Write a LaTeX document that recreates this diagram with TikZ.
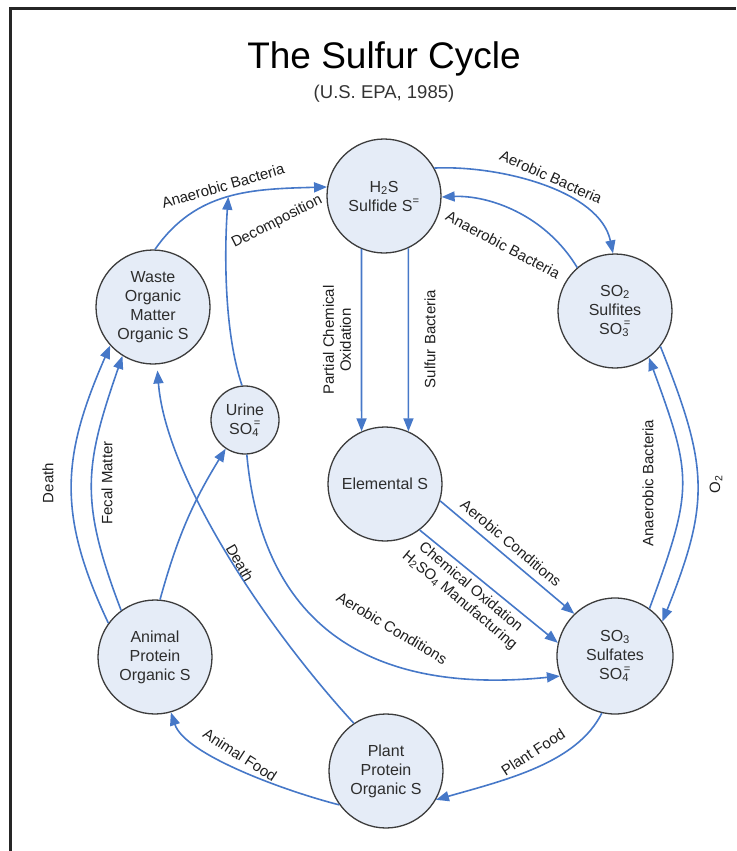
\documentclass[tikz,border=0pt]{standalone}
\usepackage{fontspec}
\setmainfont{Liberation Sans}
\usetikzlibrary{arrows.meta}
\definecolor{flowblue}{RGB}{70,120,200}
\definecolor{nodefill}{RGB}{229,236,247}
\definecolor{nodeedge}{RGB}{60,60,60}
\definecolor{nodetext}{RGB}{45,45,45}
\definecolor{lbltext}{RGB}{30,30,30}
\newcommand\sbsp[2]{\rlap{\textsubscript{#1}}\kern1.5pt\raisebox{1pt}{\textsuperscript{#2}}}
\begin{document}
\begin{tikzpicture}[x=1pt,y=1pt,
  cyc/.style={circle, draw=nodeedge, line width=1.3pt, fill=nodefill, inner sep=0pt,
    minimum size=114pt, align=center, font=\fontsize{16}{19}\selectfont, text=nodetext},
  flow/.style={draw=flowblue, line width=1.6pt, -{Triangle[length=13pt,width=10pt]}},
  lbl/.style={font=\fontsize{15}{17}\selectfont, text=lbltext, inner sep=0pt, align=center}]
\useasboundingbox (0,0) rectangle (736,-851);
\draw[line width=3pt, color=black!85] (10,-851) -- (10,-9) -- (736,-9);

\node[anchor=base, font=\fontsize{37}{40}\selectfont] (title) at (384,-68) {The Sulfur Cycle};
\node[anchor=base, font=\fontsize{18.5}{22}\selectfont, text=black!80] (sub) at (384,-99) {(U.S. EPA, 1985)};

\node[cyc] (h2s) at (384,-196) {H\textsubscript{2}S\\Sulfide S\textsuperscript{=}};
\node[cyc] (so2) at (615,-311) {SO\textsubscript{2}\\Sulfites\\SO\sbsp{3}{=}};
\node[cyc] (waste) at (153,-307) {Waste\\Organic\\Matter\\Organic S};
\node[cyc, minimum size=68pt] (urine) at (245,-420) {Urine\\SO\sbsp{4}{=}};
\node[cyc] (elem) at (385,-484) {Elemental S};
\node[cyc, minimum size=116pt] (so3) at (615,-656) {SO\textsubscript{3}\\Sulfates\\SO\sbsp{4}{=}};
\node[cyc] (animal) at (155,-657) {Animal\\Protein\\Organic S};
\node[cyc] (plant) at (386,-771) {Plant\\Protein\\Organic S};

\draw[flow] (waste.88) .. controls +(41,59) and +(-75,-2) .. (h2s.171) coordinate[pos=0.5] (dtip);
\draw[flow] (urine.95) .. controls +(-20,60) and +(-3,-40) .. (dtip);
\draw[flow] (h2s.29) .. controls +(65,3) and +(-13,63) .. (so2.92);
\draw[flow] (so2.131) .. controls +(-32,53) and +(47,2) .. (h2s.-1);
\draw[flow] (h2s.247) -- (elem.114);
\draw[flow] (h2s.295) -- (elem.66);
\draw[flow] (elem.-17) -- (so3.134);
\draw[flow] (elem.-53) -- (so3.167);
\draw[flow] (so3.54) .. controls +(44,120) and +(44,-120) .. (so2.-54);
\draw[flow] (so2.-38) .. controls +(48,-120) and +(48,120) .. (so3.36);
\draw[flow] (so3.257) .. controls +(-25,-50) and +(70,20) .. (plant.-30);
\draw[flow] (plant.216) .. controls +(-55,14) and +(14,-42) .. (animal.286);
\draw[flow, shorten >=6pt] (plant.124) .. controls (255,-615) and (165,-470) .. (waste.-86);
\draw[flow] (animal.144) .. controls +(-52,110) and +(-48,-110) .. (waste.222);
\draw[flow] (animal.126) .. controls +(-42,110) and +(-38,-110) .. (waste.238);
\draw[flow] (animal.85) to[bend left=8] (urine.236);
\draw[flow] (urine.-87) .. controls +(15,-165) and +(-197,-20) .. (so3.200);

\node[lbl, rotate=16] (l1) at (223,-186) {Anaerobic Bacteria};
\node[lbl, rotate=27] (l2) at (277,-222) {Decomposition};
\node[lbl, rotate=-24] (l3) at (551,-177) {Aerobic Bacteria};
\node[lbl, rotate=-28] (l4) at (503,-245) {Anaerobic Bacteria};
\node[lbl, rotate=90] (l5) at (337,-340) {Partial Chemical\\Oxidation};
\node[lbl, rotate=90] (l6) at (430,-339) {Sulfur Bacteria};
\node[lbl, rotate=-40] (l7) at (511,-543) {Aerobic Conditions};
\node[lbl, rotate=-40] (l8) at (465,-594) {Chemical Oxidation\\H\textsubscript{2}SO\textsubscript{4} Manufacturing};
\node[lbl, rotate=90] (l9) at (648,-483) {Anaerobic Bacteria};
\node[lbl, rotate=90] (l10) at (716,-484) {O\textsubscript{2}};
\node[lbl, rotate=33] (l11) at (533,-752) {Plant Food};
\node[lbl, rotate=-33] (l12) at (240,-755) {Animal Food};
\node[lbl, rotate=-60] (l13) at (240,-563) {Death};
\node[lbl, rotate=90] (l14) at (48,-483) {Death};
\node[lbl, rotate=90] (l15) at (107,-483) {Fecal Matter};
\node[lbl, rotate=-31] (l16) at (392,-628) {Aerobic Conditions};
\end{tikzpicture}
\end{document}
